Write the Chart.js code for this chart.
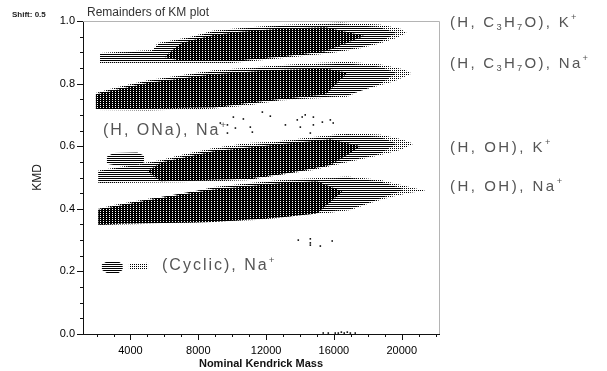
<!DOCTYPE html>
<html>
<head>
<meta charset="utf-8">
<script src="https://cdn.jsdelivr.net/npm/chart.js@4.4.0/dist/chart.umd.min.js"></script>
<style>
html, body { margin: 0; padding: 0; background: #fff; }
</style>
</head>
<body>
<canvas id="kmPlot" width="607" height="371"></canvas>
<script>
var xTicks = [4000, 8000, 12000, 16000, 20000];
var yTicks = [0, 0.2, 0.4, 0.6, 0.8, 1.0];

// band edges as [nominal mass, KMD]
// (H, C3H7O), K+
var c3h7oKTop = [[2200,0.898],[3400,0.902],[5300,0.907],[5600,0.930],[7500,0.949],[8900,0.970],[10500,0.978],[12800,0.987],[16400,0.995],[18700,0.989],[19900,0.976],[20300,0.962]];
var c3h7oKBottom = [[2200,0.866],[5600,0.866],[9900,0.865],[12800,0.880],[15800,0.897],[17500,0.912],[18700,0.928],[19600,0.944],[20300,0.962]];
var c3h7oKMidTop = [[2200,0.895],[5300,0.904],[5700,0.927],[7500,0.946],[8900,0.966],[10500,0.975],[12800,0.984],[16400,0.990],[18600,0.982],[19700,0.962]];
var c3h7oKMidBottom = [[2200,0.868],[9900,0.868],[12800,0.883],[15800,0.900],[17500,0.915],[18700,0.932],[19700,0.962]];
var c3h7oKCoreTop = [[6000,0.885],[7000,0.930],[8900,0.955],[10500,0.966],[12800,0.975],[15500,0.980],[17800,0.952]];
var c3h7oKCoreBottom = [[6000,0.885],[7000,0.872],[9900,0.872],[12800,0.886],[15500,0.903],[17800,0.952]];

// (H, C3H7O), Na+
var c3h7oNaTop = [[1950,0.770],[3000,0.786],[5000,0.811],[6950,0.827],[8900,0.843],[10900,0.851],[12800,0.859],[14800,0.866],[16800,0.870],[18700,0.862],[20100,0.846],[20600,0.832]];
var c3h7oNaBottom = [[1950,0.716],[5000,0.714],[8900,0.720],[10900,0.730],[12800,0.746],[14800,0.752],[16800,0.758],[17500,0.776],[18700,0.794],[19600,0.808],[20600,0.832]];
var c3h7oNaMidTop = [[1950,0.768],[5000,0.808],[8900,0.839],[12800,0.855],[16800,0.864],[18700,0.855],[19700,0.834]];
var c3h7oNaMidBottom = [[1950,0.717],[8900,0.722],[12800,0.748],[16800,0.762],[18700,0.798],[19700,0.834]];
var c3h7oNaCoreTop = [[1950,0.765],[5000,0.802],[8900,0.830],[12300,0.843],[15500,0.848],[16800,0.835]];
var c3h7oNaCoreBottom = [[1950,0.719],[8900,0.724],[12300,0.748],[15500,0.765],[16800,0.835]];

// (H, ONa), Na+ small cluster
var onaTop = [[2600,0.566],[3000,0.578],[4400,0.580],[4800,0.570]];
var onaBottom = [[2600,0.544],[3000,0.540],[4400,0.540],[4800,0.548]];

// (H, OH), K+
var ohKTop = [[2100,0.522],[3400,0.534],[5800,0.556],[6950,0.572],[8900,0.594],[10900,0.610],[12400,0.614],[14800,0.629],[16800,0.642],[18700,0.637],[20000,0.622],[20700,0.608]];
var ohKBottom = [[2100,0.482],[6950,0.485],[10900,0.491],[13400,0.513],[14800,0.524],[16800,0.549],[18700,0.571],[19900,0.588],[20700,0.608]];
var ohKMidTop = [[2100,0.520],[5800,0.553],[8900,0.590],[12400,0.610],[16800,0.637],[18700,0.630],[19700,0.608]];
var ohKMidBottom = [[2100,0.484],[10900,0.493],[14800,0.527],[16800,0.552],[18700,0.575],[19700,0.608]];
var ohKCoreTop = [[5000,0.520],[5800,0.548],[8900,0.584],[12400,0.604],[15800,0.622],[17600,0.600]];
var ohKCoreBottom = [[5000,0.520],[5800,0.488],[10900,0.496],[13400,0.515],[15800,0.540],[17600,0.600]];

// (H, OH), Na+
var ohNaTop = [[2100,0.400],[3000,0.412],[5200,0.434],[6950,0.445],[8900,0.470],[10900,0.482],[12800,0.492],[14800,0.498],[16800,0.503],[18700,0.493],[19900,0.477],[21400,0.458]];
var ohNaBottom = [[2100,0.348],[6950,0.354],[11400,0.364],[12800,0.371],[14000,0.380],[15800,0.387],[17000,0.396],[18100,0.418],[19300,0.437],[20500,0.451],[21400,0.458]];
var ohNaMidTop = [[2100,0.399],[5200,0.432],[8900,0.467],[12800,0.489],[16800,0.499],[18700,0.488],[20200,0.462]];
var ohNaMidBottom = [[2100,0.349],[11400,0.366],[14000,0.382],[17000,0.399],[18100,0.420],[20200,0.462]];
var ohNaCoreTop = [[2100,0.397],[5200,0.429],[8900,0.462],[12800,0.482],[15000,0.488],[16500,0.455]];
var ohNaCoreBottom = [[2100,0.351],[8900,0.358],[12800,0.372],[15000,0.385],[16500,0.455]];

// (Cyclic), Na+
var cyclicTop = [[2300,0.222],[2600,0.232],[3300,0.232],[3550,0.222]];
var cyclicBottom = [[2300,0.205],[2600,0.195],[3300,0.195],[3550,0.205]];
var cyclic2Top = [[3900,0.224],[5050,0.228]];
var cyclic2Bottom = [[3900,0.207],[5050,0.207]];

// isolated points
var strayPoints = [[9300,0.674],[9720,0.668],[10070,0.693],[10660,0.687],[10190,0.658],[9720,0.642],[11070,0.661],[11190,0.645],
  [11780,0.709],[12250,0.696],[13140,0.668],[13840,0.684],[14130,0.693],[14310,0.700],[14790,0.693],[15320,0.677],[15790,0.684],
  [15960,0.674],[14790,0.668],[14020,0.661],[14610,0.642],
  [13900,0.300],[14610,0.304],[14610,0.291],[14610,0.284],[15200,0.281],[15900,0.297],
  [15370,0.003],[15670,0.003],[16080,0.003],[16260,0.003],[16440,0.006],[16610,0.003],[16790,0.006],[16970,0.003],[17260,0.003]];

var canvas = document.getElementById('kmPlot');
var ctx = canvas.getContext('2d');

function dotPattern(cells, w, h) {
  var c = document.createElement('canvas');
  c.width = w; c.height = h;
  var g = c.getContext('2d');
  g.fillStyle = '#000';
  cells.forEach(function (p) { g.fillRect(p[0], p[1], 1, 1); });
  return ctx.createPattern(c, 'repeat');
}
var light = dotPattern([[0,0]], 2, 2);
var mid = dotPattern([[0,0],[1,0]], 2, 2);
var dark = dotPattern([[0,0],[1,0],[0,1],[2,0],[2,1]], 3, 2);

var bands = [
  [c3h7oKTop, c3h7oKBottom, light, 3], [c3h7oKMidTop, c3h7oKMidBottom, mid, 2], [c3h7oKCoreTop, c3h7oKCoreBottom, dark, 1],
  [c3h7oNaTop, c3h7oNaBottom, light, 3], [c3h7oNaMidTop, c3h7oNaMidBottom, mid, 2], [c3h7oNaCoreTop, c3h7oNaCoreBottom, dark, 1],
  [onaTop, onaBottom, mid, 2],
  [ohKTop, ohKBottom, light, 3], [ohKMidTop, ohKMidBottom, mid, 2], [ohKCoreTop, ohKCoreBottom, dark, 1],
  [ohNaTop, ohNaBottom, light, 3], [ohNaMidTop, ohNaMidBottom, mid, 2], [ohNaCoreTop, ohNaCoreBottom, dark, 1],
  [cyclicTop, cyclicBottom, mid, 2], [cyclic2Top, cyclic2Bottom, light, 3]
];

function pts(arr) { return arr.map(function (p) { return { x: p[0], y: p[1] }; }); }

var datasets = [];
bands.forEach(function (b) {
  datasets.push({ data: pts(b[0]), showLine: true, fill: '+1', backgroundColor: b[2], borderColor: 'rgba(0,0,0,0)', borderWidth: 0, pointRadius: 0, order: b[3] });
  datasets.push({ data: pts(b[1]), showLine: true, fill: false, borderColor: 'rgba(0,0,0,0)', borderWidth: 0, pointRadius: 0, order: b[3] });
});
datasets.push({ data: pts(strayPoints), pointStyle: 'rect', pointRadius: 1.1, backgroundColor: '#000', borderWidth: 0, order: 0 });

var tickFont = { family: '"Liberation Sans", Arial, sans-serif', size: 11 };

function rich(c, parts, x, y, size, spacing) {
  parts.forEach(function (p) {
    var small = p[1] !== 'n';
    c.font = (small ? size * 0.62 : size) + 'px "Liberation Sans", Arial, sans-serif';
    var dy = p[1] === 'sub' ? size * 0.28 : (p[1] === 'sup' ? -size * 0.34 : 0);
    for (var i = 0; i < p[0].length; i++) {
      c.fillText(p[0][i], x, y + dy);
      x += c.measureText(p[0][i]).width + spacing;
    }
  });
}

var decor = {
  id: 'decor',
  afterDraw: function (chart) {
    var c = chart.ctx, a = chart.chartArea, xs = chart.scales.x, ys = chart.scales.y;
    c.save();
    // gray frame top and right
    c.strokeStyle = '#b4b4b4'; c.lineWidth = 1;
    c.beginPath();
    c.moveTo(a.left, a.top + 0.5); c.lineTo(a.right + 0.5, a.top + 0.5); c.lineTo(a.right + 0.5, a.bottom);
    c.stroke();
    // ticks
    c.strokeStyle = '#111';
    c.beginPath();
    for (var m = 2000; m <= 22000; m += 1000) {
      var px = Math.round(xs.getPixelForValue(m)) + 0.5;
      c.moveTo(px, a.bottom); c.lineTo(px, a.bottom + (m % 4000 === 0 ? 6 : 3));
    }
    for (var k = 0; k <= 20; k++) {
      var py = Math.round(ys.getPixelForValue(k * 0.05)) + 0.5;
      c.moveTo(a.left, py); c.lineTo(a.left - (k % 4 === 0 ? 6 : 3), py);
    }
    c.stroke();
    // texts
    c.fillStyle = '#222';
    c.textBaseline = 'middle';
    c.font = 'bold 8px "Liberation Sans", Arial, sans-serif';
    c.fillText('Shift: 0.5', 12, 15);
    c.fillStyle = '#333';
    c.font = '12px "Liberation Sans", Arial, sans-serif';
    c.fillText('Remainders of KM plot', 87, 13);
    c.fillStyle = '#555';
    rich(c, [['(H, C', 'n'], ['3', 'sub'], ['H', 'n'], ['7', 'sub'], ['O), K', 'n'], ['+', 'sup']], 450, 23, 15, 2.3);
    rich(c, [['(H, C', 'n'], ['3', 'sub'], ['H', 'n'], ['7', 'sub'], ['O), Na', 'n'], ['+', 'sup']], 450, 64, 15, 2.3);
    rich(c, [['(H, OH), K', 'n'], ['+', 'sup']], 450, 148, 15, 2.5);
    rich(c, [['(H, OH), Na', 'n'], ['+', 'sup']], 450, 187, 15, 2.5);
    rich(c, [['(H, ONa), Na', 'n'], ['+', 'sup']], 103, 131, 16, 2.0);
    rich(c, [['(Cyclic), Na', 'n'], ['+', 'sup']], 162, 266, 16, 2.0);
    c.restore();
  }
};

new Chart(canvas, {
  type: 'scatter',
  data: { datasets: datasets },
  options: {
    responsive: false,
    animation: false,
    devicePixelRatio: 1,
    layout: { padding: { top: 21, right: 168, left: 0, bottom: 0 } },
    plugins: { legend: { display: false }, tooltip: { enabled: false } },
    scales: {
      x: {
        type: 'linear', min: 1200, max: 22200,
        afterBuildTicks: function (s) { s.ticks = xTicks.map(function (v) { return { value: v }; }); },
        afterFit: function (s) { s.height = 37; },
        grid: { drawOnChartArea: false, drawTicks: false },
        border: { color: '#111', width: 1 },
        ticks: { padding: 10, color: '#000', font: tickFont, maxRotation: 0, autoSkip: false, callback: function (v) { return String(v); } },
        title: { display: true, text: 'Nominal Kendrick Mass', color: '#111', font: { family: '"Liberation Sans", Arial, sans-serif', size: 11, weight: 'bold' }, padding: { top: 0, bottom: 0 } }
      },
      y: {
        type: 'linear', min: 0, max: 1.0,
        afterBuildTicks: function (s) { s.ticks = yTicks.map(function (v) { return { value: v }; }); },
        afterFit: function (s) { s.width = 83; },
        grid: { drawOnChartArea: false, drawTicks: false },
        border: { color: '#111', width: 1 },
        ticks: { padding: 8, color: '#000', font: tickFont, callback: function (v) { return v.toFixed(1); } },
        title: { display: true, text: 'KMD', color: '#222', font: { family: '"Liberation Sans", Arial, sans-serif', size: 12 }, padding: { top: 30, bottom: 0 } }
      }
    }
  },
  plugins: [decor]
});
</script>
</body>
</html>
